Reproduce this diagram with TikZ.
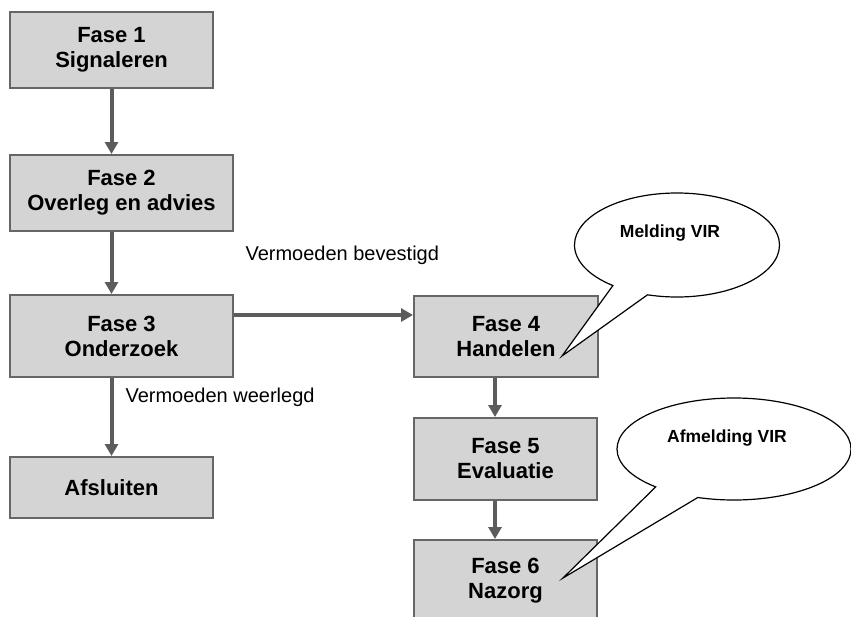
\documentclass[tikz,border=0pt]{standalone}
\usepackage{fontspec}
\setmainfont{Liberation Sans}
\usetikzlibrary{arrows.meta,positioning,shapes.callouts}
\definecolor{boxgray}{HTML}{D4D4D4}
\definecolor{edgegray}{HTML}{666666}
\definecolor{arrowgray}{HTML}{5C5C5C}
\begin{document}
\begin{tikzpicture}[x=1pt, y=-1pt]
\tikzset{fasebox/.style={draw=edgegray, line width=2pt, fill=boxgray, align=center, text=black, font=\bfseries\fontsize{22}{25}\selectfont, inner sep=0pt}, arrowstyle/.style={-{Triangle[length=12pt,width=13pt]}, line width=4pt, arrowgray}, edgelabel/.style={anchor=west, font=\fontsize{20}{24}\selectfont}, bubble/.style={ellipse callout, draw=black, line width=1.2pt, fill=white}, bubbletext/.style={font=\bfseries\fontsize{17.5}{20}\selectfont}}
\useasboundingbox (0,0) rectangle (851,616);
\node[fasebox, minimum width=203pt, minimum height=76pt] (f1) at (111.5,50) {Fase 1\\Signaleren};
\node[fasebox, minimum width=223pt, minimum height=76pt] (f2) at (121.5,193) {Fase 2\\Overleg en advies};
\node[fasebox, minimum width=223pt, minimum height=82pt] (f3) at (121.5,336) {Fase 3\\Onderzoek};
\node[fasebox, minimum width=203pt, minimum height=61pt] (afsl) at (111.5,487.5) {Afsluiten};
\node[fasebox, minimum width=184pt, minimum height=81pt] (f4) at (506,336.5) {Fase 4\\Handelen};
\node[fasebox, minimum width=183pt, minimum height=82pt] (f5) at (505.5,459) {Fase 5\\Evaluatie};
\node[fasebox, minimum width=183pt, minimum height=81pt] (f6) at (505.5,580.5) {Fase 6\\Nazorg};
\coordinate (rowbev) at (0,315);
\coordinate (colright) at (495,0);
\draw[arrowstyle] (f1.south) -- (f2.north -| f1.south);
\draw[arrowstyle] (f2.south -| f1.south) -- (f3.north -| f1.south);
\draw[arrowstyle] (f3.south -| afsl.south) -- (afsl.north);
\draw[arrowstyle] (f3.east |- rowbev) -- (f4.west |- rowbev);
\draw[arrowstyle] (f4.south -| colright) -- (f5.north -| colright);
\draw[arrowstyle] (f5.south -| colright) -- (f6.north -| colright);
\node[edgelabel] (bevestigd) at (242,255) {Vermoeden bevestigd};
\node[edgelabel] (weerlegd) at (122,397) {Vermoeden weerlegd};
\node[bubble, minimum width=205pt, minimum height=104pt, callout pointer arc=22, callout absolute pointer={(562,356)}] (melding) at (677,245) {};
\node[bubbletext] at (670,233) {Melding VIR};
\node[bubble, minimum width=234pt, minimum height=102pt, callout pointer arc=24, callout absolute pointer={(563,578)}] (afmelding) at (734,449) {};
\node[bubbletext] at (727,438) {Afmelding VIR};
\end{tikzpicture}
\end{document}
